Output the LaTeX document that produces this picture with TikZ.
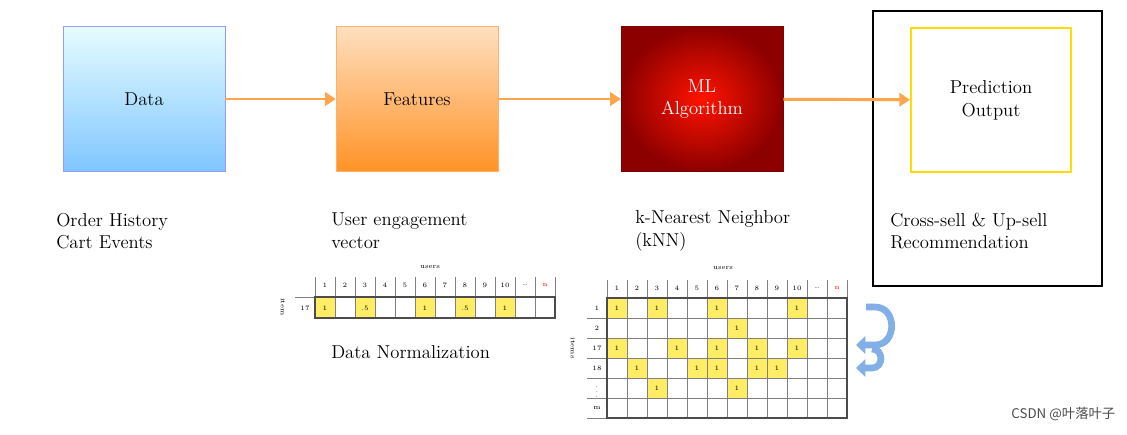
\documentclass[tikz,border=0pt]{standalone}
\usepackage{fontspec}
\newfontfamily\cjk{Noto Sans CJK SC}
\usetikzlibrary{arrows.meta}
\definecolor{loopblue}{RGB}{130,175,230}
\begin{document}
\begin{tikzpicture}[x=0.75pt,y=-0.75pt,
 lab/.style={anchor=west,font=\fontsize{14}{17}\selectfont,align=left,inner sep=0},
 flow/.style={draw=orange!70,line width=2.2pt,-{Triangle[length=8pt,width=10pt]}},
 tiny/.style={font=\fontsize{5}{6}\selectfont,inner sep=0},
 yc/.style={fill=yellow!85!orange!60,draw=black!60}]
\useasboundingbox (0,0) rectangle (1127,435);
\fill[white] (0,0) rectangle (1127,435);
% boxes
\node[minimum width=121.5pt,minimum height=108.75pt,inner sep=0,draw=blue!40,
 top color=blue!10!cyan!10,bottom color=blue!45!cyan!50,font=\fontsize{14}{17}\selectfont] (data) at (144,99) {Data};
\node[minimum width=121.5pt,minimum height=108.75pt,inner sep=0,draw=orange!60,
 top color=orange!25,bottom color=orange!85,font=\fontsize{14}{17}\selectfont] (feat) at (417,99) {Features};
\node[minimum width=121.5pt,minimum height=108.75pt,inner sep=0,draw=red!50!black,
 inner color=red!85!orange,outer color=red!55!black,text=white,align=center,font=\fontsize{14}{17}\selectfont] (ml) at (702,99) {ML\\Algorithm};
\node[minimum width=120pt,minimum height=108pt,inner sep=0,draw=yellow!80!orange,line width=1.5pt,
 align=center,font=\fontsize{14}{17}\selectfont] (pred) at (991,100) {Prediction\\Output};
\node[draw=black,line width=1.5pt,minimum width=171.75pt,minimum height=205.5pt,inner sep=0] (frame) at (987.5,148.5) {};
\draw[flow] (data) -- (feat);
\draw[flow] (feat) -- (ml);
\draw[flow] (ml) -- (pred);
% labels
\node[lab] (l1) at (56,231) {Order History\\Cart Events};
\node[lab] (l2) at (331,231) {User engagement\\vector};
\node[lab] (l3) at (635,231) {k-Nearest Neighbor\\(kNN)};
\node[lab] (l4) at (890,231) {Cross-sell \& Up-sell\\Recommendation};
\node[lab] (l5) at (331,352) {Data Normalization};
% small table
\foreach \c/\v in {1/1,3/.5,6/1,8/.5,10/1}{
 \fill[yc] ({295+20*\c},297) rectangle ({315+20*\c},318);
 \node[tiny] at ({305+20*\c},308) {\v};}
\foreach \c/\t in {1/1,2/2,3/3,4/4,5/5,6/6,7/7,8/8,9/9,10/10,11/{\ldots},12/{\textcolor{red}{n}}}
 \node[tiny] at ({305+20*\c},285) {\t};
\foreach \i in {0,...,12} \draw[black!50] ({315+20*\i},277) -- ({315+20*\i},318);
\draw[black!50] (295,297) -- (555,297);
\draw[black!70,line width=1pt] (315,297) -- (555,297) -- (555,318) -- (315,318) -- cycle;
\node[tiny] at (305,308) {17};
\node[tiny] at (430,267) {users};
\node[tiny,rotate=-90] at (283,307) {item};
% big table
\foreach \r/\cs in {1/{1,3,6,10},2/{7},3/{1,4,6,8,10},4/{2,5,6,8,9},5/{3,7}}
 \foreach \c in \cs {
 \fill[yc] ({587+20*\c},{278+20*\r}) rectangle ({607+20*\c},{298+20*\r});
 \node[tiny] at ({597+20*\c},{288+20*\r}) {1};}
\foreach \c/\t in {1/1,2/2,3/3,4/4,5/5,6/6,7/7,8/8,9/9,10/10,11/{\ldots},12/{\textcolor{red}{n}}}
 \node[tiny] at ({597+20*\c},288) {\t};
\foreach \r/\t in {1/1,2/2,3/17,4/18,5/{$\vdots$},6/m}
 \node[tiny] at (597,{288+20*\r}) {\t};
\foreach \i in {0,...,12} \draw[black!50] ({607+20*\i},280) -- ({607+20*\i},418);
\foreach \j in {1,...,6} \draw[black!50] (587,{298+20*\j}) -- (847,{298+20*\j});
\draw[black!70,line width=1pt] (607,298) rectangle (847,418);
\node[tiny] at (723,268) {users};
\node[tiny,rotate=-90] at (573,348) {items};
% blue loop arrows
\draw[loopblue,line width=5pt,-{Triangle[length=7pt,width=13pt]}] (866,307) -- (875,307) to[out=0,in=0,looseness=1.5] (875,345) -- (856,345);
\draw[loopblue,line width=5pt,-{Triangle[length=7pt,width=13pt]}] (872,349) to[out=0,in=0,looseness=1.6] (872,368) -- (856,368);
\node[font=\fontsize{10}{12}\selectfont\cjk,text=black!70,anchor=east] (wm) at (1120,414) {CSDN @叶落叶子};
\end{tikzpicture}
\end{document}
